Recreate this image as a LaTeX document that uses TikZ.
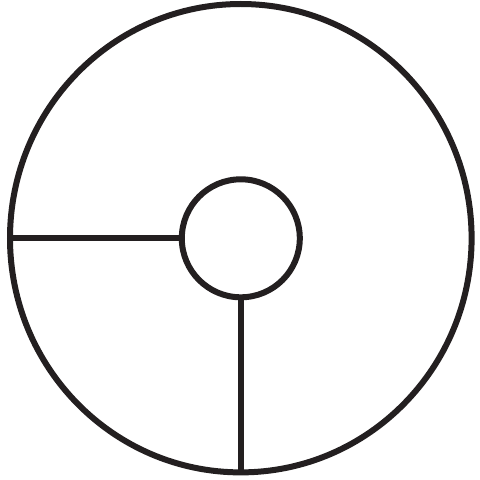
\documentclass[tikz,border=0pt]{standalone}
\usepackage{tikz}
\usetikzlibrary{shapes.geometric}

\definecolor{ink}{HTML}{231F20}

\begin{document}
\begin{tikzpicture}[x=1pt, y=1pt,
        ring/.style={draw=ink, line width=6pt, inner sep=0pt, outer sep=0pt},
        spoke/.style={draw=ink, line width=6pt}]
        \useasboundingbox (0,0) rectangle (480,480);

        % Dis halka ve merkez
        \node[ring, ellipse, minimum width=461.6pt, minimum height=468.4pt] (rim) at (240.8,241.8) {};
        \node[ring, circle, minimum size=118pt] (hub) at (240.8,241.7) {};

        % Kollar
        \draw[spoke] (hub.west) -- (rim.west |- hub.west);
        \draw[spoke] (hub.south) -- (rim.south);
    \end{tikzpicture}
\end{document}
